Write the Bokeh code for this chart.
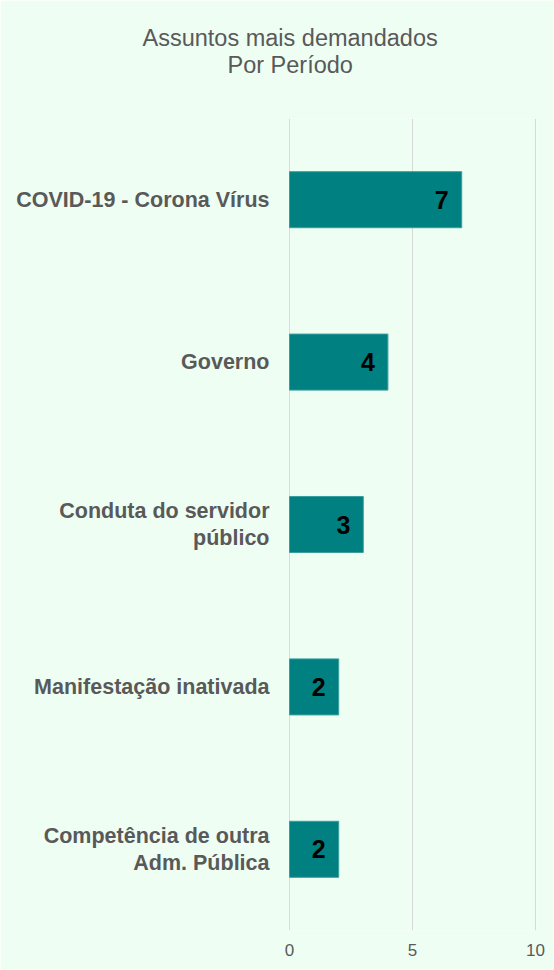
from bokeh.plotting import figure
from bokeh.models import Title, FactorRange, Range1d, FixedTicker, ColumnDataSource
from bokeh.embed import file_html
from bokeh.resources import INLINE
from bokeh.core.properties import value

categories = ["COVID-19 - Corona Vírus", "Governo", "Conduta do servidor\npúblico",
              "Manifestação inativada", "Competência de outra\nAdm. Pública"]
counts = [7, 4, 3, 2, 2]
x_ticks = [0, 5, 10]
title_lines = ["Assuntos mais demandados", "Por Período"]

BG = "#EEFEF3"
TXT = "#595959"
FONT = "Liberation Sans"

factors = list(reversed(categories))
src = ColumnDataSource(dict(cat=categories, count=counts, label=[str(c) for c in counts]))

p = figure(width=554, height=970, title=None,
           y_range=FactorRange(factors=factors), x_range=Range1d(-0.04, 10.04),
           output_backend="svg", toolbar_location=None,
           min_border_left=288, min_border_right=18, min_border_top=118, min_border_bottom=40)

p.hbar(y="cat", right="count", left=0, height=0.345, source=src,
       fill_color="#008080", line_color="#3A9E9E", line_width=1)
p.text(x="count", y="cat", text="label", source=src, x_offset=-13,
       text_align="right", text_baseline="middle", text_font_style="bold",
       text_font_size="25px", text_color="black", text_font=value(FONT))

p.xaxis.ticker = FixedTicker(ticks=x_ticks)
p.xgrid.ticker = FixedTicker(ticks=x_ticks)
p.xgrid.grid_line_color = "#D9D9D9"
p.ygrid.grid_line_color = None
for ax in (p.xaxis[0], p.yaxis[0]):
    ax.axis_line_color = None
    ax.major_tick_line_color = None
    ax.minor_tick_line_color = None
    ax.major_tick_out = 0
    ax.major_tick_in = 0
    ax.minor_tick_out = 0
    ax.major_label_text_color = TXT
    ax.major_label_text_font = FONT
p.xaxis.major_label_text_font_size = "17px"
p.xaxis.major_label_standoff = 13
p.yaxis.major_label_text_font_size = "21.5px"
p.yaxis.major_label_text_font_style = "bold"
p.yaxis.major_label_text_line_height = 1.1
p.yaxis.major_label_standoff = 19

p.outline_line_color = None
p.background_fill_color = BG
p.border_fill_color = BG

# second line first (closest to plot), then first line above it
for t, off, so in [(title_lines[1], -61, 82), (title_lines[0], -146, -84)]:
    p.add_layout(Title(text=t, align="left", offset=off, text_font_size="23.5px",
                       text_font_style="normal", text_color=TXT, text_font=FONT,
                       standoff=so), "above")

open("out.html", "w").write(file_html(p, INLINE))
